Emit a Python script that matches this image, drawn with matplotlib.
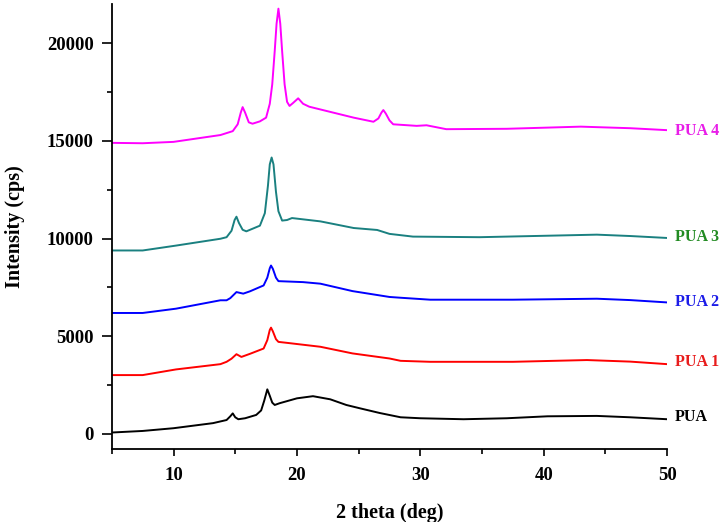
import matplotlib.pyplot as plt
from matplotlib.ticker import MultipleLocator

# values (2 theta, intensity in cps)
pua_x = [5, 7.5, 10.0, 13.2, 14.3, 14.6, 14.8, 15.0, 15.25, 15.8, 16.7, 17.1, 17.35, 17.6,
         17.8, 18.0, 18.2, 18.6, 20.0, 21.3, 22.7, 24.0, 25.1, 26.7, 28.4, 30.0, 33.5,
         37.0, 40.3, 44.3, 47.0, 50]
pua_y = [70, 150, 290, 550, 710, 900, 1050, 850, 750, 800, 970, 1200, 1700, 2280,
         1950, 1600, 1480, 1570, 1820, 1930, 1770, 1480, 1310, 1070, 850, 800, 750,
         800, 900, 920, 850, 750]

pua1_x = [5, 7.5, 10.2, 13.8, 14.3, 14.7, 15.1, 15.5, 16.2, 17.3, 17.6, 17.8, 17.9, 18.05,
          18.3, 18.5, 19.2, 21.9, 24.5, 27.5, 28.4, 30.8, 37.5, 43.5, 47.0, 50]
pua1_y = [3010, 3010, 3300, 3570, 3690, 3850, 4080, 3940, 4100, 4370, 4800, 5320, 5440, 5250,
          4850, 4710, 4660, 4460, 4120, 3860, 3740, 3690, 3690, 3780, 3700, 3570]

pua2_x = [5, 7.5, 10.2, 13.8, 14.3, 14.6, 15.1, 15.65, 16.2, 17.3, 17.6, 17.8, 17.9, 18.05,
          18.3, 18.5, 20.5, 21.9, 24.5, 27.5, 28.4, 30.8, 37.5, 44.3, 47.0, 50]
pua2_y = [6190, 6190, 6410, 6840, 6840, 6950, 7260, 7180, 7300, 7600, 8000, 8480, 8620, 8450,
          8000, 7820, 7770, 7690, 7310, 7010, 6970, 6870, 6870, 6920, 6850, 6730]

pua3_x = [5, 7.5, 10.2, 13.8, 14.3, 14.7, 14.95, 15.1, 15.3, 15.6, 15.9, 17.0, 17.4, 17.65,
          17.8, 17.95, 18.1, 18.3, 18.5, 18.8, 19.2, 19.6, 21.9, 24.6, 26.5, 27.5, 29.4,
          34.8, 44.3, 47.0, 50]
pua3_y = [9390, 9390, 9640, 9990, 10070, 10400, 10950, 11120, 10800, 10450, 10370, 10660, 11300, 12700,
          13800, 14150, 13800, 12400, 11400, 10920, 10950, 11050, 10880, 10540, 10440, 10240, 10100,
          10070, 10200, 10130, 10030]

pua4_x = [5, 7.5, 10.0, 13.8, 14.8, 15.2, 15.45, 15.6, 15.8, 16.1, 16.4, 17.0, 17.5, 17.8,
          18.0, 18.2, 18.35, 18.5, 18.65, 18.8, 19.0, 19.2, 19.4, 19.7, 20.1, 20.5, 21.0,
          21.9, 24.6, 26.2, 26.6, 26.85, 27.0, 27.2, 27.5, 27.8, 29.7, 30.5, 32.1, 37.0,
          43.0, 47.0, 50]
pua4_y = [14900, 14880, 14950, 15300, 15500, 15850, 16450, 16730, 16450, 15950, 15880, 16000, 16190, 16900,
          17900, 19600, 21000, 21770, 21000, 19600, 17900, 17000, 16790, 16950, 17180, 16900, 16750,
          16610, 16190, 15980, 16150, 16450, 16580, 16400, 16050, 15850, 15770, 15800, 15600, 15620,
          15730, 15650, 15550]

names = ['PUA', 'PUA 1', 'PUA 2', 'PUA 3', 'PUA 4']
label_y = [880, 3690, 6750, 10070, 15510]
line_colors = ['black', '#ff0000', '#0000ff', '#1a8080', '#ff00ff']
text_colors = ['black', '#e81c1c', '#1c1ce8', '#228b22', '#e81ee8']

xs = [pua_x, pua1_x, pua2_x, pua3_x, pua4_x]
ys = [pua_y, pua1_y, pua2_y, pua3_y, pua4_y]

plt.rcParams['font.family'] = 'Liberation Serif'
plt.rcParams['font.weight'] = 'bold'

fig = plt.figure(figsize=(7.26, 5.22), dpi=100)
ax = fig.add_axes([0.154, 0.140, 0.765, 0.852])

for x, y, c in zip(xs, ys, line_colors):
    ax.plot(x, y, color=c, lw=1.4)

for name, ly, tc in zip(names, label_y, text_colors):
    ax.text(50.65, ly, name, color=tc, fontsize=11.5, fontweight='bold',
            ha='left', va='center', clip_on=False)

ax.set_xlim(5, 50)
ax.set_ylim(-770, 22000)
ax.xaxis.set_major_locator(MultipleLocator(10))
ax.xaxis.set_minor_locator(MultipleLocator(5))
ax.yaxis.set_major_locator(MultipleLocator(5000))
ax.yaxis.set_minor_locator(MultipleLocator(2500))
ax.tick_params(axis='x', which='major', direction='out', length=5, width=1.2, labelsize=13.5, pad=8)
ax.tick_params(axis='x', which='minor', direction='out', length=3.5, width=1.2)
ax.tick_params(axis='y', which='major', direction='out', length=7, width=1.2, labelsize=13.5, pad=6)
ax.tick_params(axis='y', which='minor', direction='out', length=3.6, width=1.2)
for lab in ax.get_xticklabels() + ax.get_yticklabels():
    lab.set_fontweight('bold')

ax.spines['top'].set_visible(False)
ax.spines['right'].set_visible(False)
ax.spines['left'].set_linewidth(1.3)
ax.spines['bottom'].set_linewidth(1.3)

ax.set_xlabel('2 theta (deg)', fontsize=14.5, fontweight='bold', labelpad=14)
ax.set_ylabel('Intensity (cps)', fontsize=14.5, fontweight='bold', labelpad=16)

fig.savefig('out.png', dpi=100)
